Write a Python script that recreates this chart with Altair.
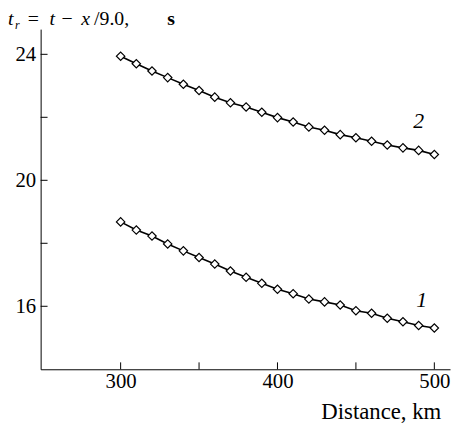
import altair as alt
import pandas as pd

# distances (km)
dist = [300, 310, 320, 330, 340, 350, 360, 370, 380, 390, 400,
        410, 420, 430, 440, 450, 460, 470, 480, 490, 500]
# curve 2 (upper), reduced time, s
curve2 = [23.94, 23.70, 23.47, 23.26, 23.05, 22.85, 22.64, 22.46, 22.33, 22.16, 21.99,
          21.85, 21.69, 21.59, 21.45, 21.35, 21.24, 21.12, 21.03, 20.95, 20.82]
# curve 1 (lower), reduced time, s
curve1 = [18.68, 18.42, 18.23, 17.98, 17.76, 17.55, 17.34, 17.12, 16.92, 16.73, 16.54,
          16.40, 16.23, 16.14, 16.04, 15.86, 15.78, 15.62, 15.51, 15.39, 15.31]

x_ticks = [300, 350, 400, 450, 500]
y_ticks = [16, 18, 20, 22, 24]
x_labels = [300, 400, 500]
y_labels = [16, 20, 24]

curve_names = ["2", "1"]
curve_label_x = [490, 492]
curve_label_y = [21.87, 16.19]

FONT = "Liberation Serif"

rows = []
for name, vals in zip(curve_names, [curve2, curve1]):
    for d, v in zip(dist, vals):
        rows.append({"dist": d, "val": v, "curve": name})
df = pd.DataFrame(rows)

xs = alt.Scale(domain=[249, 510], nice=False, zero=False)
ys = alt.Scale(domain=[14, 24.8], nice=False, zero=False)

xaxis = alt.Axis(values=x_labels, ticks=False, grid=False, domainColor="black",
                 domainWidth=1, labelFont=FONT, labelFontSize=21, labelColor="black",
                 labelPadding=1, title="Distance, km", titleFont=FONT, titleFontSize=23,
                 titleFontWeight="normal", titleColor="black", titleX=344, titleY=50,
                 titleAlign="center", titleBaseline="alphabetic")
yaxis = alt.Axis(values=y_labels, ticks=False, grid=False, domainColor="black",
                 domainWidth=1, labelFont=FONT, labelFontSize=21, labelColor="black",
                 labelPadding=5, title=None)

xenc = alt.X("dist:Q", scale=xs, axis=xaxis)
yenc = alt.Y("val:Q", scale=ys, axis=yaxis)

lines = alt.Chart(df).mark_line(color="black", strokeWidth=1.6).encode(
    x=xenc, y=yenc, detail="curve:N")

points = alt.Chart(df).mark_point(shape="diamond", filled=True, fill="white",
                                  stroke="black", strokeWidth=1.2, size=72,
                                  opacity=1).encode(x=xenc, y=yenc, detail="curve:N")

xt = alt.Chart(pd.DataFrame({"dist": x_ticks})).mark_rule(color="black", strokeWidth=1).encode(
    x=xenc, y=alt.value(344), y2=alt.value(337))
yt = alt.Chart(pd.DataFrame({"val": y_ticks})).mark_rule(color="black", strokeWidth=1).encode(
    y=yenc, x=alt.value(0), x2=alt.value(7))

labels = alt.Chart(pd.DataFrame({"dist": curve_label_x, "val": curve_label_y,
                                 "name": curve_names})).mark_text(
    font=FONT, fontSize=22, fontStyle="italic", color="black", align="center",
    baseline="middle").encode(x=xenc, y=yenc, text="name:N")

one = pd.DataFrame({"a": [0]})


def piece(txt, px, py, size=20, style="normal", weight="normal"):
    return alt.Chart(one).mark_text(font=FONT, fontSize=size, fontStyle=style,
                                    fontWeight=weight, color="black", align="left",
                                    baseline="alphabetic").encode(
        x=alt.value(px), y=alt.value(py), text=alt.value(txt))


title_layers = [
    piece("t", -33, -4, style="italic"),
    piece("r", -26, 0, size=12, style="italic"),
    piece("=", -13, -4),
    piece("t", 9, -4, style="italic"),
    piece("\u2212", 21, -4),
    piece("x", 41, -4, style="italic"),
    piece("/9.0,", 54, -4),
    piece("s", 128, -4, weight="bold"),
]

chart = alt.layer(lines, points, xt, yt, labels, *title_layers).properties(
    width=414, height=344,
    autosize=alt.AutoSizeParams(type="none"),
    padding={"left": 33, "top": 19, "right": 2, "bottom": 55},
    background="white",
).configure_view(strokeWidth=0)

chart.save("out.html", embed_options={"renderer": "svg", "actions": False})
